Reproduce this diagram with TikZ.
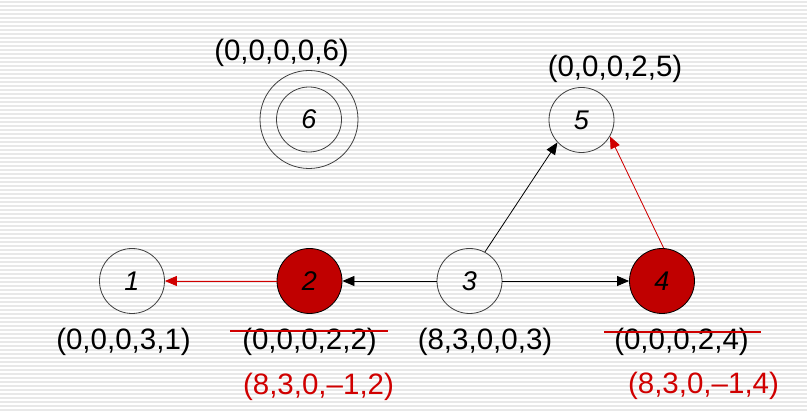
\documentclass[tikz,border=0pt]{standalone}
\usepackage{fontspec}
\setmainfont{Liberation Sans}
\usetikzlibrary{arrows.meta}
\definecolor{dred}{HTML}{C00000}
\definecolor{tred}{HTML}{D00000}
\definecolor{stripe}{HTML}{E8E8E8}
\begin{document}
\begin{tikzpicture}[x=1pt,y=-1pt,
  vertex/.style={circle,draw=black!75,line width=0.8pt,minimum size=65pt,inner sep=0pt,font=\fontsize{27}{27}\selectfont\itshape},
  hot/.style={vertex,fill=dred,draw=black},
  lab/.style={anchor=base,inner sep=0pt,font=\fontsize{29.5}{30}\selectfont},
  rlab/.style={lab,text=tred},
  edge/.style={line width=0.8pt,-{Triangle[length=12pt,width=10pt]}},
  redge/.style={edge,draw=tred,fill=tred},
  strike/.style={draw=tred,line width=2.2pt}]
\useasboundingbox (0,0) rectangle (807,411);
\fill[white] (0,0) rectangle (807,411);
\foreach \y in {2,6,...,410} {\draw[stripe,line width=1.5pt] (0,\y) -- (807,\y);}
% nodes
\node[vertex] (n1) at (132,281) {1};
\node[hot] (n2) at (309.5,281) {2};
\node[vertex] (n3) at (469.5,281) {3};
\node[hot] (n4) at (662,281) {4};
\node[vertex] (n5) at (581.5,120) {5};
\node[vertex,minimum size=98pt] (n6o) at (309,119.5) {};
\node[vertex] (n6) at (309,119.5) {6};
% labels
\node[lab] (l6) at (281.5,61) {(0,0,0,0,6)};
\node[lab] (l5) at (615,77) {(0,0,0,2,5)};
\node[lab] (l1) at (123.5,350) {(0,0,0,3,1)};
\node[lab] (l2) at (309.5,350) {(0,0,0,2,2)};
\node[lab] (l3) at (485,350) {(8,3,0,0,3)};
\node[lab] (l4) at (681.5,350) {(0,0,0,2,4)};
\node[rlab] (r2) at (318.5,395) {(8,3,0,–1,2)};
\node[rlab] (r4) at (703.5,394) {(8,3,0,–1,4)};
% strike-through
\draw[strike] ([xshift=-12pt]l2.north west |- 0,331) -- ([xshift=11pt]l2.north east |- 0,331);
\draw[strike] ([xshift=-10pt]l4.north west |- 0,332) -- ([xshift=12pt]l4.north east |- 0,332);
% edges
\draw[edge] (n3) -- (n2);
\draw[edge] (n3) -- (n4);
\draw[redge] (n2) -- (n1);
\draw[edge] (n3.62) -- (n5.-137);
\draw[redge] (n4.87) -- (n5.-30);
\end{tikzpicture}
\end{document}
